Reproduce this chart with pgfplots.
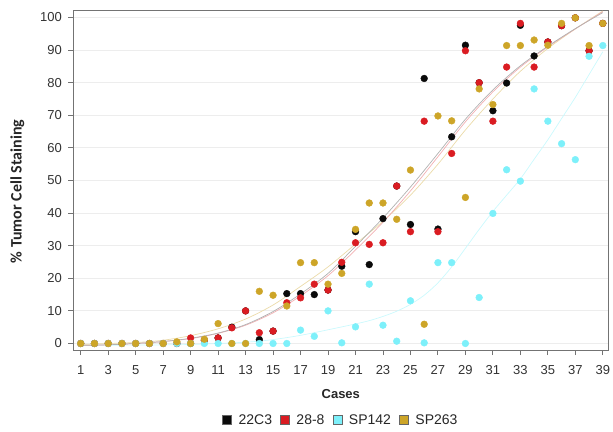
\documentclass[border=0pt]{standalone}
\usepackage{pgfplots}
\usepackage{pgfplotstable}
\pgfplotsset{compat=1.18}
\usepackage{fontspec}
\setmainfont{Liberation Sans}
\newfontfamily\labfont{Carlito}
\definecolor{c22}{RGB}{10,10,10}
\definecolor{c28}{RGB}{218,28,34}
\definecolor{c142}{RGB}{125,240,250}
\definecolor{c263}{RGB}{205,165,40}
\pgfplotstableread{
case a b c d
1 0 0 0 0
2 0 0 0 0
3 0 0 0 0
4 0 0 0 0
5 0 0 0 0
6 0 0 0 0
7 0 0 0 0
8 0 0 0 0.5
9 0 1.7 0 0
10 1.0 1.0 0 1.3
11 1.7 1.7 0 6.1
12 5.0 4.8 0 0
13 10.0 10.0 0 0
14 1.2 3.3 0 16.0
15 3.8 3.8 0 14.8
16 15.3 12.5 0 11.5
17 15.3 14.0 4.1 24.8
18 15.0 18.2 2.2 24.8
19 16.4 16.4 10.0 18.2
20 23.7 24.9 0.2 21.5
21 34.3 30.9 5.1 35.0
22 24.2 30.4 18.2 43.1
23 38.3 30.9 5.6 43.1
24 48.3 48.3 0.7 38.1
25 36.5 34.3 13.1 53.2
26 81.3 68.2 0.2 5.9
27 35.1 34.3 24.8 69.8
28 63.4 58.3 24.8 68.3
29 91.5 89.8 0 44.8
30 80.0 80.0 14.1 78.1
31 71.4 68.2 39.9 73.3
32 79.9 84.8 53.3 91.4
33 97.6 98.2 49.8 91.4
34 88.2 84.8 78.1 93.1
35 92.5 92.5 68.2 91.5
36 97.5 97.5 61.3 98.2
37 99.9 99.9 56.4 99.9
38 89.8 89.8 88.1 91.4
39 98.2 98.2 91.4 98.2
}\datatable
\begin{document}
\begin{tikzpicture}
\path[use as bounding box] (-73.3pt,-81pt) rectangle (539.7pt,350pt);
\begin{axis}[
  scale only axis, width=535pt, height=339pt,
  at={(0pt,0pt)}, anchor=south west,
  xmin=0.46, xmax=39.4, ymin=-2, ymax=102,
  xtick={1,3,...,39}, ytick={0,10,...,100},
  tick pos=left, tick align=outside, major tick length=5pt,
  ymajorgrids, grid style={black!7, line width=0.9pt},
  axis line style={black!55, line width=1pt},
  tick style={black!55, line width=0.9pt},
  ticklabel style={font=\fontsize{13}{15}\selectfont, text=black!80},
  /pgf/number format/assume math mode=true,
  xticklabel style={yshift=-7pt},
  yticklabel style={xshift=-3pt},
  xlabel={Cases},
  xlabel style={font=\bfseries\fontsize{13}{15}\selectfont, text=black!85, at={(axis description cs:0.5,0)}, anchor=center, yshift=-44pt},
  ylabel={\labfont\bfseries \% Tumor Cell Staining},
  ylabel style={font=\fontsize{16}{18}\selectfont, text=black!85, at={(axis description cs:0,0.5)}, anchor=center, yshift=56pt, xshift=-11pt},
  legend style={at={(0.5,0)}, anchor=center, yshift=-70pt, legend columns=4, draw=none, fill=none,
    font=\fontsize{14}{16}\selectfont, text=black!85,
    /tikz/every even column/.append style={column sep=6pt}},
  legend cell align=left,
]
\addlegendimage{legend image code/.code={\draw[fill=c22,draw=black!60,line width=0.5pt] (0pt,-4.5pt) rectangle (9pt,4.5pt); \path (14pt,0pt);}}
\addlegendentry{22C3}
\addlegendimage{legend image code/.code={\draw[fill=c28,draw=black!60,line width=0.5pt] (0pt,-4.5pt) rectangle (9pt,4.5pt); \path (14pt,0pt);}}
\addlegendentry{28-8}
\addlegendimage{legend image code/.code={\draw[fill=c142,draw=black!60,line width=0.5pt] (0pt,-4.5pt) rectangle (9pt,4.5pt); \path (14pt,0pt);}}
\addlegendentry{SP142}
\addlegendimage{legend image code/.code={\draw[fill=c263,draw=black!60,line width=0.5pt] (0pt,-4.5pt) rectangle (9pt,4.5pt); \path (14pt,0pt);}}
\addlegendentry{SP263}
% fitted curves
\addplot[forget plot, smooth, color=c142!40, line width=0.7pt] coordinates {(1,-0.5) (5,-0.5) (9,-0.3) (13,0.4) (15,1.2) (17,2.5) (19,4.2) (21,6.0) (22,7.0) (23,8.3) (24,9.9) (25,12) (26,14.8) (27,18.6) (28,23.5) (29,29.2) (30,35) (31,40.5) (32,45.5) (33,50.5) (34,56.5) (35,62.5) (36,69) (37,75.5) (38,82.5) (39,89.5)};
\addplot[forget plot, smooth, color=c263!40, line width=0.7pt] coordinates {(1,-0.3) (5,0.3) (7,1.0) (9,2.4) (11,4.5) (13,7.5) (15,11.8) (17,17.5) (19,23.5) (21,30.5) (23,37.5) (25,45.5) (27,55) (29,65.5) (31,75) (33,83.5) (35,90.5) (37,96.5) (39,102)};
\addplot[forget plot, smooth, color=c28!35, line width=0.7pt] coordinates {(1,-0.6) (3,-0.4) (5,0) (7,0.6) (9,1.5) (11,3.1) (13,5.6) (15,9.4) (17,14.6) (19,20.8) (21,28.7) (23,37.2) (25,46.8) (27,57.3) (29,68) (31,77.2) (33,84.8) (35,91) (37,96.5) (39,101.8)};
\addplot[forget plot, smooth, color=black!30, line width=0.7pt] coordinates {(1,-0.6) (3,-0.4) (5,0) (7,0.6) (9,1.6) (11,3.2) (13,5.8) (15,9.8) (17,15.2) (19,21.5) (21,29.8) (23,38.5) (25,48) (27,58.3) (29,68.8) (31,77.8) (33,85.2) (35,91.2) (37,96.6) (39,101.5)};
% data
\addplot[forget plot, only marks, mark=*, mark size=3.4pt, color=c22] table[x=case, y=a] {\datatable};
\addplot[forget plot, only marks, mark=*, mark size=3.4pt, color=c28] table[x=case, y=b] {\datatable};
\addplot[forget plot, only marks, mark=*, mark size=3.4pt, color=c142] table[x=case, y=c] {\datatable};
\addplot[forget plot, only marks, mark=*, mark size=3.4pt, color=c263] table[x=case, y=d] {\datatable};
\end{axis}
\end{tikzpicture}
\end{document}
